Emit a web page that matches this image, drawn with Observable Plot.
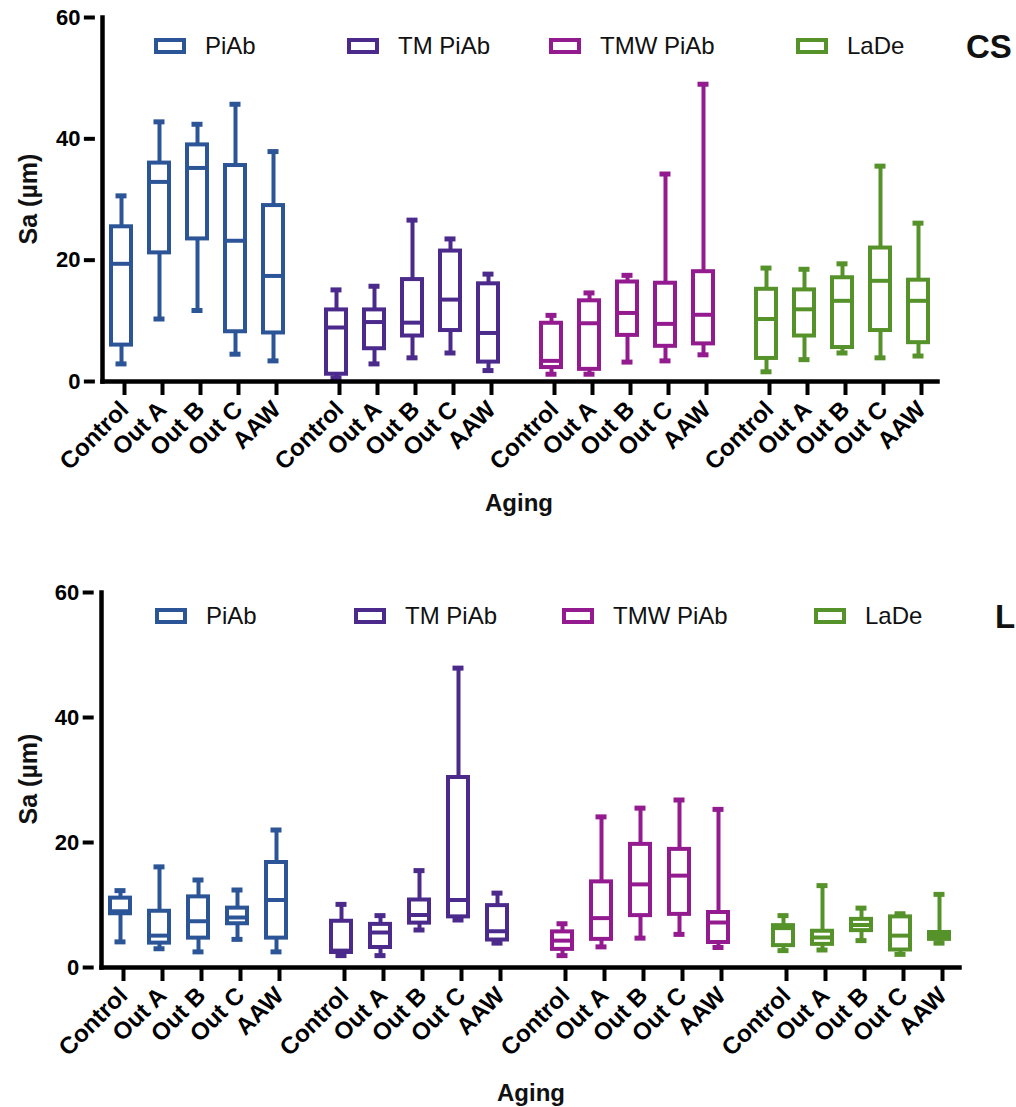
<!DOCTYPE html>
<html><head><meta charset="utf-8">
<script src="https://cdn.jsdelivr.net/npm/d3@7"></script>
<script src="https://cdn.jsdelivr.net/npm/@observablehq/plot@0.6"></script>
<style>
body{margin:0;background:#fff;font-family:"Liberation Sans",Arial,sans-serif;}
#wrap{position:relative;width:1016px;height:1107px;overflow:hidden;}
.panel{position:absolute;left:0;}
.leg{position:absolute;display:flex;align-items:center;font-size:24px;color:#111;transform:translateY(-50%);white-space:nowrap;}
.sw{box-sizing:border-box;width:32px;height:16px;border:4.5px solid;margin-right:19px;}
.plabel{position:absolute;font-weight:bold;font-size:33px;color:#111;transform:translateY(-50%);}
.ylab{position:absolute;font-weight:bold;font-size:25px;color:#111;white-space:nowrap;transform:translate(-50%,-50%) rotate(-90deg);}
.xlab{position:absolute;font-weight:bold;font-size:24px;color:#111;transform:translate(-50%,-50%);}
</style>
</head><body>
<div id="wrap"></div>
<script>
const groups = ["PiAb", "TM PiAb", "TMW PiAb", "LaDe"];
const agings = ["Control", "Out A", "Out B", "Out C", "AAW"];
const colors = ["#2B5597", "#4B2A8C", "#931A8F", "#56922A"];

// CS panel (group-major: PiAb, TM PiAb, TMW PiAb, LaDe; each Control..AAW)
const csMin = [2.9, 10.3, 11.7, 4.5, 3.4,   0.6, 2.9, 3.9, 4.7, 1.8,   1.2, 1.2, 3.2, 3.4, 4.4,   1.6, 3.6, 4.7, 3.9, 4.2];
const csQ1  = [6.0, 21.2, 23.5, 8.2, 8.0,   1.2, 5.4, 7.5, 8.4, 3.2,   2.3, 2.0, 7.6, 5.8, 6.2,   3.8, 7.5, 5.6, 8.4, 6.4];
const csMed = [19.4, 32.9, 35.2, 23.2, 17.4, 8.9, 9.8, 9.7, 13.5, 8.0,  3.4, 9.6, 11.3, 9.5, 11.0, 10.3, 11.9, 13.3, 16.6, 13.3];
const csQ3  = [25.5, 36.0, 39.0, 35.6, 29.0, 11.8, 11.8, 16.8, 21.5, 16.1, 9.6, 13.3, 16.4, 16.2, 18.1, 15.2, 15.1, 17.1, 22.0, 16.7];
const csMax = [30.6, 42.8, 42.4, 45.7, 37.9, 15.1, 15.7, 26.6, 23.5, 17.7, 10.9, 14.6, 17.5, 34.2, 49.0, 18.7, 18.5, 19.4, 35.5, 26.1];

// L panel
const lMin = [4.1, 3.0, 2.5, 4.5, 2.5,   1.9, 1.9, 6.0, 7.6, 3.9,   1.9, 3.3, 4.7, 5.3, 3.2,   2.7, 2.8, 4.3, 2.1, 3.9];
const lQ1  = [8.6, 3.9, 4.7, 7.0, 4.7,   2.4, 3.2, 7.1, 8.1, 4.4,   2.9, 4.5, 8.3, 8.5, 4.0,   3.5, 3.7, 5.9, 2.8, 4.5];
const lMed = [9.0, 5.1, 7.4, 8.0, 10.8,  2.7, 5.6, 8.4, 10.8, 5.8,  4.3, 7.9, 13.3, 14.7, 7.2,  6.3, 4.8, 6.8, 5.1, 5.2];
const lQ3  = [11.1, 9.0, 11.3, 9.5, 16.8, 7.4, 6.9, 10.8, 30.4, 9.9, 5.7, 13.7, 19.7, 18.9, 8.8, 6.7, 5.8, 7.7, 8.1, 5.6];
const lMax = [12.3, 16.1, 14.0, 12.4, 22.0, 10.1, 8.3, 15.5, 47.9, 11.9, 7.0, 24.1, 25.5, 26.8, 25.3, 8.3, 13.1, 9.5, 8.6, 11.7];

const yTicks = [0, 20, 40, 60];

function buildRows(mins, q1s, meds, q3s, maxs) {
  const rows = [];
  groups.forEach((g, gi) => agings.forEach((a, ai) => {
    const k = gi * agings.length + ai;
    rows.push({group: g, aging: a, min: mins[k], q1: q1s[k], med: meds[k], q3: q3s[k], max: maxs[k]});
  }));
  return rows;
}

function panel(rows, marginRight, marginTop, plotH) {
  const marginBottom = 110;
  const fxPadIn = 0.117, fxPadOut = 0.033;
  const frameW = 1016 - 93 - marginRight;
  const outerOffset = fxPadOut * frameW / (groups.length - fxPadIn + 2 * fxPadOut);
  return Plot.plot({
    width: 1016,
    height: marginTop + plotH + marginBottom,
    marginLeft: 93, marginRight, marginTop, marginBottom,
    style: {fontFamily: "Liberation Sans, Arial, sans-serif", fontSize: "22px", background: "white", color: "black", overflow: "visible"},
    fx: {domain: groups, paddingInner: fxPadIn, paddingOuter: fxPadOut, axis: null, label: null},
    x: {domain: agings, paddingInner: 0.475, paddingOuter: 0.2375, label: null},
    y: {domain: [0, 60], label: null},
    color: {domain: groups, range: colors},
    marks: [
      Plot.ruleX(rows, {fx: "group", x: "aging", y1: "min", y2: "max", stroke: "group", strokeWidth: 4}),
      Plot.barY(rows, {fx: "group", x: "aging", y1: "q1", y2: "q3", fill: "white", stroke: "group", strokeWidth: 4}),
      Plot.tickY(rows, {fx: "group", x: "aging", y: "med", stroke: "group", strokeWidth: 4, strokeLinecap: "square"}),
      Plot.tickY(rows, {fx: "group", x: "aging", y: "min", stroke: "group", strokeWidth: 5, insetLeft: 4.5, insetRight: 4.5}),
      Plot.tickY(rows, {fx: "group", x: "aging", y: "max", stroke: "group", strokeWidth: 5, insetLeft: 4.5, insetRight: 4.5}),
      Plot.axisX({tickRotate: -45, tickSize: 14, tickPadding: 10, dx: 3, strokeWidth: 4, fontSize: 24, fontWeight: "bold", label: null}),
      Plot.axisY({ticks: yTicks, tickSize: 11, tickPadding: 4, strokeWidth: 4, fontSize: 22, fontWeight: "bold", label: null, dx: -outerOffset}),
      Plot.frame({anchor: "bottom", facet: "super", strokeWidth: 4.5}),
      Plot.frame({anchor: "left", facet: "super", strokeWidth: 4.5})
    ]
  });
}

const wrap = document.getElementById("wrap");

function addPanel(rows, top, marginRight, marginTop, plotH) {
  const div = document.createElement("div");
  div.className = "panel";
  div.style.top = top + "px";
  div.appendChild(panel(rows, marginRight, marginTop, plotH));
  wrap.appendChild(div);
}

addPanel(buildRows(csMin, csQ1, csMed, csQ3, csMax), 0, 71, 17, 364);
addPanel(buildRows(lMin, lQ1, lMed, lQ3, lMax), 560, 48, 32, 375);

function addLegend(y, swLefts) {
  groups.forEach((g, i) => {
    const d = document.createElement("div");
    d.className = "leg";
    d.style.left = swLefts[i] + "px";
    d.style.top = y + "px";
    const s = document.createElement("span");
    s.className = "sw";
    s.style.borderColor = colors[i];
    d.appendChild(s);
    d.appendChild(document.createTextNode(g));
    wrap.appendChild(d);
  });
}
addLegend(46, [154, 347, 549, 796]);
addLegend(616, [155, 354, 562, 814]);

function addText(cls, text, x, y) {
  const d = document.createElement("div");
  d.className = cls;
  d.textContent = text;
  d.style.left = x + "px";
  d.style.top = y + "px";
  wrap.appendChild(d);
}
addText("plabel", "CS", 966, 47);
addText("plabel", "L", 995, 617);
addText("ylab", "Sa (µm)", 28, 199);
addText("ylab", "Sa (µm)", 28, 779);
addText("xlab", "Aging", 519, 503);
addText("xlab", "Aging", 531, 1093);
</script>
</body></html>
